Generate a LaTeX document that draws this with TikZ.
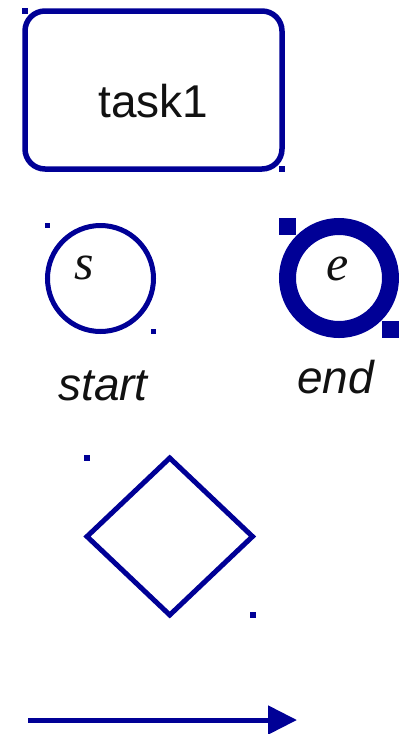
\documentclass[tikz,border=0pt]{standalone}
\usepackage{fontspec}
\setmainfont{Liberation Sans}
\newfontfamily\letterfont{Liberation Serif}
\usetikzlibrary{arrows.meta,shapes.geometric}
\definecolor{bpmnblue}{HTML}{000096}
\definecolor{ink}{HTML}{111111}
\tikzset{
  task/.style={rectangle,rounded corners=20pt,draw=bpmnblue,line width=5.5pt,outer sep=0pt,minimum width=257pt,minimum height=158pt,text=ink,font=\fontsize{46}{50}\selectfont},
  startevent/.style={circle,draw=bpmnblue,line width=5pt,outer sep=0pt,inner sep=0pt,minimum size=106pt},
  endevent/.style={circle,draw=bpmnblue,line width=17pt,outer sep=0pt,inner sep=0pt,minimum size=103pt},
  gateway/.style={diamond,draw=bpmnblue,line width=5pt,outer sep=0pt,inner sep=0pt,minimum width=165.5pt,minimum height=157pt},
  handle/.style={rectangle,fill=bpmnblue,inner sep=0pt,outer sep=0pt},
  letter/.style={anchor=base,text=ink,font=\letterfont\itshape\fontsize{50}{54}\selectfont},
  caption/.style={anchor=base,text=ink,font=\itshape\fontsize{46}{50}\selectfont},
  flow/.style={-{Triangle[length=29pt,width=28pt]},draw=bpmnblue,fill=bpmnblue,line width=5pt}
}
\begin{document}
\begin{tikzpicture}[x=1pt,y=-1pt]
  \useasboundingbox (0,0) rectangle (399,734);
  \node[task,text height=54pt,text depth=0pt] (t1) at (153.5,90) {task1};
  \node[handle,minimum size=6pt] (t1a) at (t1.west |- t1.north) {};
  \node[handle,minimum size=6pt] (t1b) at (t1.east |- t1.south) {};

  \node[startevent] (s) at (100.5,278.5) {};
  \node[letter] (sl) at (84,279) {s};
  \node[handle,minimum size=5pt] (sa) at (s.west |- s.north) {};
  \node[handle,minimum size=5pt] (sb) at (s.east |- s.south) {};
  \node[caption] (sc) at (103,400) {start};

  \node[endevent] (e) at (339,278) {};
  \node[letter] (el) at (338,280) {e};
  \node[handle,minimum size=17pt] (ea) at (e.west |- e.north) {};
  \node[handle,minimum size=17pt] (eb) at (e.east |- e.south) {};
  \node[caption] (ec) at (335.5,393) {end};

  \node[gateway] (g) at (169.75,536.5) {};
  \node[handle,minimum size=6pt] (ga) at (g.west |- g.north) {};
  \node[handle,minimum size=6pt] (gb) at (g.east |- g.south) {};

  \coordinate (fa) at (28,720);
  \coordinate (fb) at (297,720);
  \draw[flow] (fa) -- (fb);
\end{tikzpicture}
\end{document}
